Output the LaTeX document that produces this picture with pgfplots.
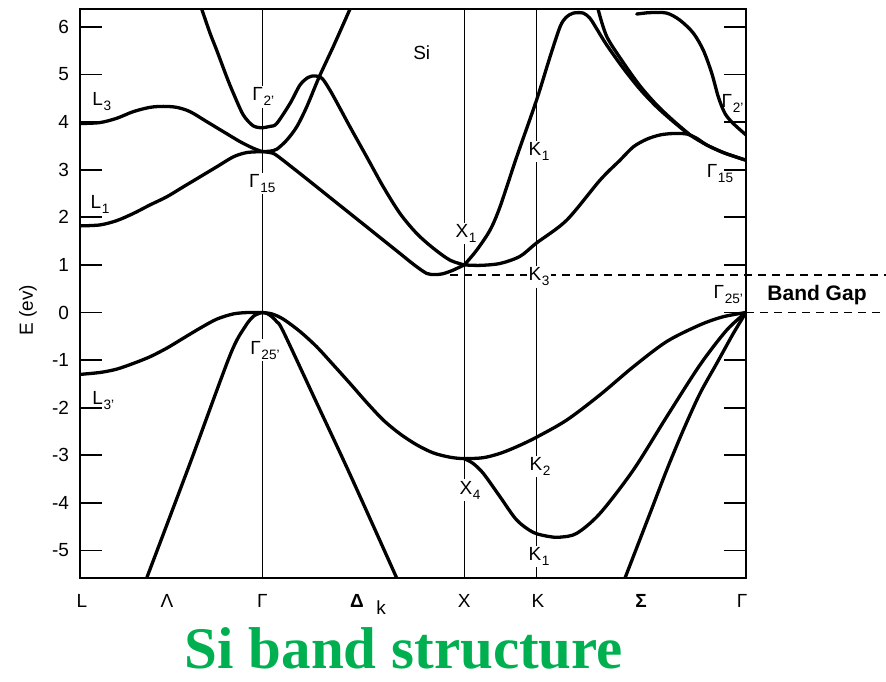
\documentclass[border=0pt]{standalone}
\usepackage{fontspec}
\setmainfont{Liberation Sans}
\newfontfamily\titlefont{Liberation Serif}
\usepackage{pgfplots}
\pgfplotsset{compat=1.18}
\definecolor{titlegreen}{RGB}{0,176,80}
\newcommand{\lb}[2]{#1\kern0.3pt\raisebox{-0.5ex}{\fontsize{6.8}{7}\selectfont #2}}
\pgfplotsset{band/.style={black, line width=1.65pt, smooth, tension=0.5, no markers, line cap=round, line join=round}}
\begin{document}
\begin{tikzpicture}
\path[use as bounding box] (-40pt,-51.5pt) rectangle (403pt,289pt);
\begin{axis}[
  at={(0,0)}, anchor=south west,
  scale only axis, width=333pt, height=284.5pt,
  xmin=0, xmax=666, ymin=-5.578, ymax=6.376,
  clip mode=individual,
  axis line style={line width=1pt},
  xtick=\empty,
  ytick={-5,...,6},
  tick align=inside,
  major tick length=11pt,
  every tick/.style={black, line width=0.9pt},
  /pgf/number format/assume math mode=true,
  tick label style={font=\fontsize{9.5}{10}\selectfont},
  yticklabel style={xshift=-2pt},
]
% vertical symmetry lines
\addplot[black, line width=0.8pt] coordinates {(182.3,-5.578) (182.3,6.376)};
\addplot[black, line width=0.8pt] coordinates {(384.3,-5.578) (384.3,6.376)};
\addplot[black, line width=0.8pt] coordinates {(456.5,-5.578) (456.5,6.376)};
% ---------- valence bands ----------
\addplot[band] coordinates {(66.7,-5.578) (110,-3.17) (150,-0.90) (165,-0.30) (174,-0.07) (182.3,0)};
\addplot[band] coordinates {(0,-1.30) (20,-1.26) (36.7,-1.19) (53.3,-1.07) (70,-0.93) (86.7,-0.75) (103.3,-0.54) (120,-0.33) (136.7,-0.14) (153.3,-0.03) (168,0.0) (182.3,0)};
\addplot[band] coordinates {(182.3,0) (192,-0.03) (203.3,-0.14) (220,-0.40) (236.7,-0.72) (253.3,-1.10) (270,-1.49) (286.7,-1.89) (303.3,-2.26) (320,-2.55) (336.7,-2.78) (353.3,-2.95) (370,-3.04) (384.3,-3.07) (403.3,-3.05) (420,-2.96) (436.7,-2.82) (456.5,-2.62) (486.7,-2.26) (520,-1.73) (553.3,-1.14) (586.7,-0.61) (620,-0.26) (643,-0.09) (666,0)};
\addplot[band] coordinates {(182.3,0) (187,-0.02) (192,-0.09) (197,-0.20) (203.3,-0.40) (236.7,-1.90) (270,-3.40) (316.7,-5.578)};
\addplot[band] coordinates {(384.3,-3.07) (393,-3.17) (403.3,-3.38) (420,-3.87) (436.7,-4.36) (453.3,-4.62) (470,-4.71) (480,-4.72) (496.7,-4.64) (520,-4.22) (553.3,-3.31) (586.7,-2.19) (620,-1.10) (646.7,-0.37) (666,0)};
\addplot[band] coordinates {(545,-5.578) (570,-4.22) (586.7,-3.31) (603.3,-2.47) (620,-1.70) (636.7,-1.07) (653.3,-0.44) (666,0)};
% ---------- conduction bands ----------
\addplot[band] coordinates {(0,1.82) (20,1.84) (36.7,1.93) (53.3,2.08) (70,2.26) (86.7,2.43) (103.3,2.64) (120,2.85) (136.7,3.06) (153.3,3.27) (166.7,3.36) (182.3,3.38)};
\addplot[band] coordinates {(0,3.97) (20,3.99) (36.7,4.08) (53.3,4.22) (70,4.31) (83.3,4.33) (96.7,4.31) (110,4.22) (126.7,4.01) (143.3,3.80) (160,3.59) (173.3,3.45) (182.3,3.38)};
\addplot[band] coordinates {(121.7,6.376) (130,5.87) (136.7,5.51) (146.7,4.95) (153.3,4.61) (163.3,4.15) (173.3,3.92) (182.3,3.88)};
\addplot[band] coordinates {(182.3,3.88) (190,3.91) (196.7,3.97) (210,4.39) (220,4.78) (228.3,4.94) (235,4.97) (242,4.92) (250,4.67) (260,4.29) (270,3.90) (286.7,3.27) (303.3,2.64) (320,2.08) (336.7,1.66) (353.3,1.35) (370,1.10) (384.3,1.00)};
\addplot[band] coordinates {(182.3,3.38) (190,3.39) (196.7,3.43) (206.7,3.62) (216.7,3.90) (226.7,4.32) (239,4.94) (254,5.62) (270,6.376)};
\addplot[band] coordinates {(182.3,3.38) (190,3.36) (196,3.31) (213.3,3.03) (236.7,2.64) (253.3,2.36) (270,2.08) (286.7,1.80) (303.3,1.52) (320,1.24) (333,1.02) (346.7,0.82) (355,0.80) (362,0.81) (372,0.88) (384.3,1.00)};
\addplot[band] coordinates {(384.3,1.00) (400,0.99) (420,1.03) (440,1.18) (456.5,1.46) (486.7,1.94) (520,2.78) (540,3.20) (553.3,3.48) (566.7,3.64) (580,3.73) (593,3.76) (606.7,3.75) (616.7,3.66) (626.7,3.52) (643.3,3.36) (660,3.24) (666,3.20)};
\addplot[band] coordinates {(384.3,1.00) (396.7,1.31) (410,1.73) (420,2.22) (436.7,3.27) (456.5,4.46) (470,5.37) (480,6.00) (486,6.20) (493.3,6.29) (503.3,6.29) (510,6.18) (516.7,5.96) (526.7,5.62) (543.3,5.13) (560,4.69) (576.7,4.32) (593.3,4.01) (610,3.73) (626.7,3.52) (643.3,3.36) (660,3.24) (666,3.20)};
\addplot[band] coordinates {(518,6.376) (526.7,5.80) (543.3,5.25) (560,4.76) (576.7,4.36) (593.3,4.03) (610,3.73)};
\addplot[band] coordinates {(556.7,6.27) (570,6.30) (586.7,6.29) (600,6.14) (613.3,5.87) (623.3,5.51) (631.7,5.03) (638.3,4.53) (645,4.18) (653.3,3.97) (666,3.73)};
% ---------- dashed reference lines ----------
\draw[black, line width=0.9pt, dash pattern=on 4pt off 3pt] (axis cs:370,0.79) -- (axis cs:806,0.79);
\draw[black, line width=0.9pt, dash pattern=on 4pt off 3pt] (axis cs:666,0) -- (axis cs:806,0);
% ---------- labels ----------
\begin{scope}[every node/.style={font=\fontsize{9.5}{10}\selectfont, inner sep=0.8pt}]
\node at (axis cs:341.7,5.45) {Si};
\node at (axis cs:21.7,4.43) {\lb{L}{3}};
\node at (axis cs:20,2.26) {\lb{L}{1}};
\node at (axis cs:23.3,-1.84) {\lb{L}{3'}};
\node[fill=white] at (axis cs:183.3,4.53) {\lb{Γ}{2'}};
\node[fill=white] at (axis cs:182.3,2.71) {\lb{Γ}{15}};
\node[fill=white] at (axis cs:185,-0.79) {\lb{Γ}{25'}};
\node[fill=white] at (axis cs:386,1.66) {\lb{X}{1}};
\node[fill=white] at (axis cs:390,-3.73) {\lb{X}{4}};
\node[fill=white] at (axis cs:459,3.38) {\lb{K}{1}};
\node[fill=white] at (axis cs:459,0.75) {\lb{K}{3}};
\node[fill=white] at (axis cs:460,-3.24) {\lb{K}{2}};
\node[fill=white] at (axis cs:459,-5.13) {\lb{K}{1}};
\node at (axis cs:652.5,4.40) {\lb{Γ}{2'}};
\node at (axis cs:640,2.92) {\lb{Γ}{15}};
\node at (axis cs:648.3,0.37) {\lb{Γ}{25'}};
\node[font=\fontsize{10.5}{11}\selectfont\bfseries] at (axis cs:737,0.37) {Band Gap};
% x labels
\node at (axis cs:2,-6.05) {L};
\node at (axis cs:87,-6.05) {Λ};
\node at (axis cs:182.3,-6.05) {Γ};
\node at (axis cs:277,-6.05) {\textbf{Δ}};
\node at (axis cs:301,-6.20) {k};
\node at (axis cs:384.3,-6.05) {X};
\node at (axis cs:458,-6.05) {K};
\node at (axis cs:561,-6.05) {\textbf{Σ}};
\node at (axis cs:662,-6.05) {Γ};
\node[rotate=90] at (axis cs:-52,0.05) {E (ev)};
\end{scope}
\node[anchor=base, text depth=0pt, inner sep=0pt, font=\titlefont\bfseries\fontsize{29.5}{31}\selectfont, text=titlegreen] at (axis cs:324,-7.47) {Si band structure};
\end{axis}
\end{tikzpicture}
\end{document}
